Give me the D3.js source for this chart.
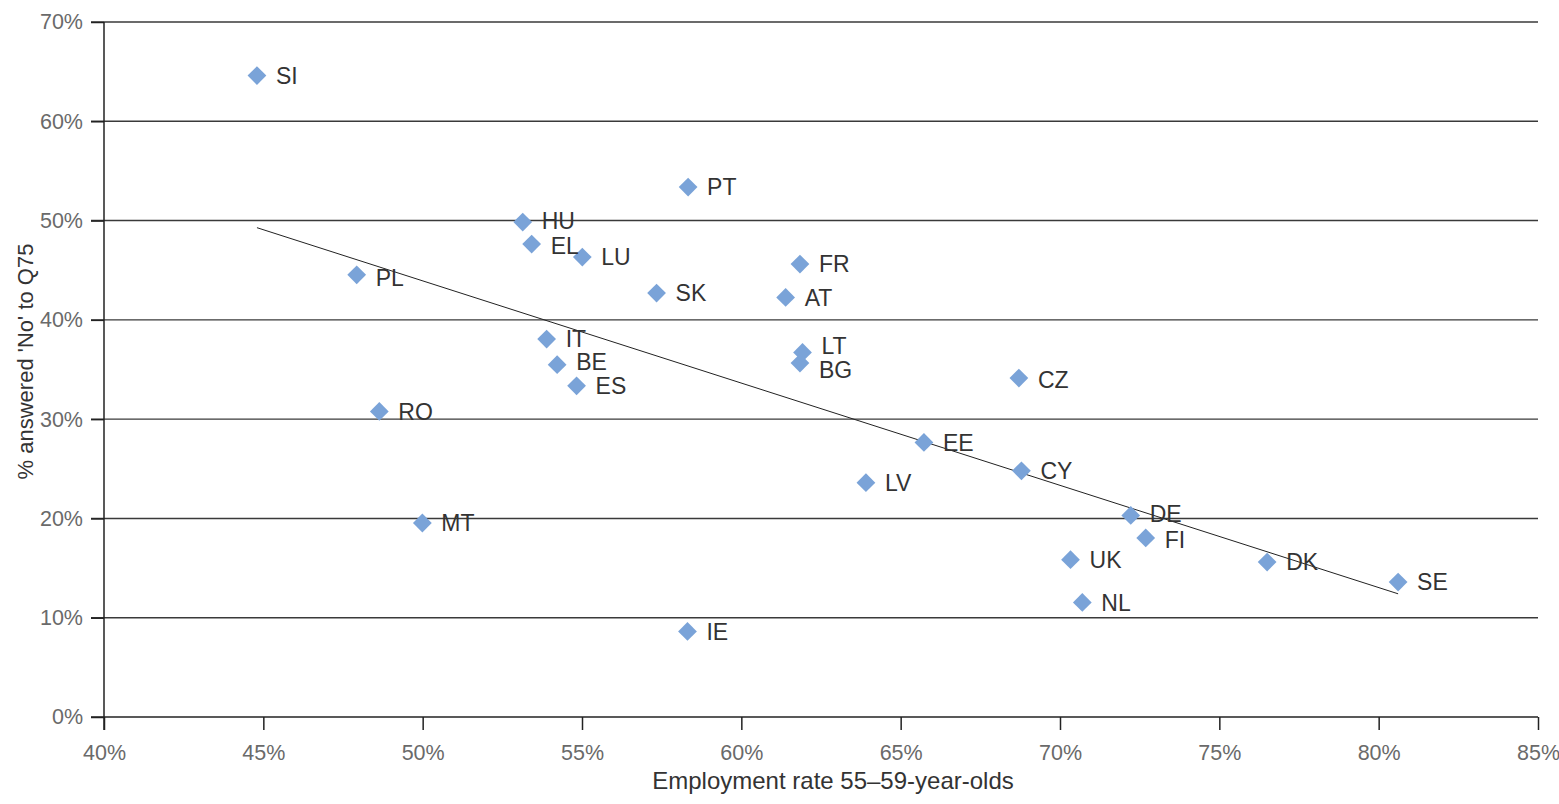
<!DOCTYPE html>
<html>
<head>
<meta charset="utf-8">
<script src="https://cdn.jsdelivr.net/npm/d3@7"></script>
<style>
  body { margin: 0; background: #fff; }
  svg { display: block; font-family: "Liberation Sans", Arial, sans-serif; }
  .tick-label { fill: #6a6a6a; font-size: 21.5px; }
  .point-label { fill: #333; font-size: 23px; }
  .axis-title { fill: #333; font-size: 22px; }
</style>
</head>
<body>
<div id="scatter"></div>
<script>
// Data
var countries = ["SI", "PL", "RO", "MT", "HU", "EL", "IT", "BE", "ES", "LU", "SK", "PT", "IE", "AT",
  "FR", "BG", "LT", "LV", "EE", "CZ", "CY", "UK", "NL", "DE", "FI", "DK", "SE"];
var employment = [44.8, 47.93, 48.64, 49.99, 53.14, 53.42, 53.89, 54.22, 54.83, 55.01, 57.34, 58.33, 58.31, 61.39,
  61.84, 61.84, 61.92, 63.91, 65.73, 68.71, 68.79, 70.33, 70.70, 72.22, 72.69, 76.50, 80.61];
var answeredNo = [64.6, 44.54, 30.78, 19.54, 49.85, 47.63, 38.07, 35.48, 33.36, 46.32, 42.7, 53.37, 8.62, 42.26,
  45.62, 35.65, 36.72, 23.6, 27.65, 34.14, 24.8, 15.84, 11.54, 20.3, 18.03, 15.61, 13.59];
var xTicks = [40, 45, 50, 55, 60, 65, 70, 75, 80, 85];
var yTicks = [0, 10, 20, 30, 40, 50, 60, 70];

// small vertical nudges for labels that would overlap
var labelNudge = { LT: -7, BG: 7, PL: 3, BE: -3, CZ: 2, EL: 2, HU: -1, DE: -2, FI: 2 };

var svgWidth = 1559;
var svgHeight = 804;
var margin = { top: 22, right: 21, bottom: 87, left: 104 };
var width = svgWidth - margin.left - margin.right;
var height = svgHeight - margin.top - margin.bottom;

var svg = d3.select("#scatter")
  .append("svg")
  .attr("width", svgWidth)
  .attr("height", svgHeight);

var chartGroup = svg.append("g")
  .attr("transform", `translate(${margin.left}, ${margin.top})`);

var xLinearScale = d3.scaleLinear().domain([40, 85]).range([0, width]);
var yLinearScale = d3.scaleLinear().domain([0, 70]).range([height, 0]);

var points = countries.map((c, i) => ({ abbr: c, x: employment[i], y: answeredNo[i] }));

// Horizontal gridlines (with left ticks)
chartGroup.append("g")
  .selectAll("line")
  .data(yTicks.filter(d => d > 0))
  .enter()
  .append("line")
  .attr("x1", -13)
  .attr("x2", width)
  .attr("y1", d => yLinearScale(d))
  .attr("y2", d => yLinearScale(d))
  .attr("stroke", "#3a3a3a")
  .attr("stroke-width", 1.4);

// Y axis
var leftAxis = d3.axisLeft(yLinearScale)
  .tickValues(yTicks)
  .tickSize(13)
  .tickPadding(8)
  .tickFormat(d => d + "%");

var yAxis = chartGroup.append("g").call(leftAxis);
yAxis.select(".domain").remove();
yAxis.append("line")
  .attr("x1", 0).attr("x2", 0)
  .attr("y1", 0).attr("y2", height + 13)
  .attr("stroke", "#222").attr("stroke-width", 1.5);

// X axis
var bottomAxis = d3.axisBottom(xLinearScale)
  .tickValues(xTicks)
  .tickSize(13)
  .tickPadding(15)
  .tickFormat(d => d + "%");

var xAxis = chartGroup.append("g")
  .attr("transform", `translate(0, ${height})`)
  .call(bottomAxis);
xAxis.select(".domain").remove();
xAxis.append("line")
  .attr("x1", -13).attr("x2", width)
  .attr("stroke", "#222").attr("stroke-width", 1.5);

chartGroup.selectAll(".tick line").attr("stroke", "#222").attr("stroke-width", 1.5);
chartGroup.selectAll(".tick text")
  .attr("class", "tick-label")
  .attr("font-size", null)
  .attr("font-family", null);

// Least squares trend line
var mx = d3.mean(points, d => d.x);
var my = d3.mean(points, d => d.y);
var slope = d3.sum(points, d => (d.x - mx) * (d.y - my)) / d3.sum(points, d => (d.x - mx) * (d.x - mx));
var intercept = my - slope * mx;
var xExtent = d3.extent(points, d => d.x);

chartGroup.append("line")
  .attr("x1", xLinearScale(xExtent[0]))
  .attr("y1", yLinearScale(intercept + slope * xExtent[0]))
  .attr("x2", xLinearScale(xExtent[1]))
  .attr("y2", yLinearScale(intercept + slope * xExtent[1]))
  .attr("stroke", "#222")
  .attr("stroke-width", 1);

// Diamonds
var diamond = d3.symbol().type(d3.symbolSquare).size(176);
chartGroup.selectAll(".stateDiamond")
  .data(points)
  .enter()
  .append("path")
  .attr("class", "stateDiamond")
  .attr("d", diamond)
  .attr("transform", d => `translate(${xLinearScale(d.x)}, ${yLinearScale(d.y)}) rotate(45)`)
  .attr("fill", "#7aa3d8");

// Labels
chartGroup.selectAll(".stateText")
  .data(points)
  .enter()
  .append("text")
  .attr("class", "point-label")
  .attr("x", d => xLinearScale(d.x) + 19)
  .attr("y", d => yLinearScale(d.y) + (labelNudge[d.abbr] || 0))
  .attr("dy", "0.36em")
  .text(d => d.abbr);

// Axis titles
chartGroup.append("text")
  .attr("class", "axis-title")
  .attr("x", width / 2 + 12)
  .attr("y", height + 72)
  .attr("text-anchor", "middle")
  .style("font-size", "24px")
  .text("Employment rate 55–59-year-olds");

chartGroup.append("text")
  .attr("class", "axis-title")
  .attr("transform", `translate(-71, ${height / 2 - 8}) rotate(-90)`)
  .attr("text-anchor", "middle")
  .text("% answered 'No' to Q75");
</script>
</body>
</html>
